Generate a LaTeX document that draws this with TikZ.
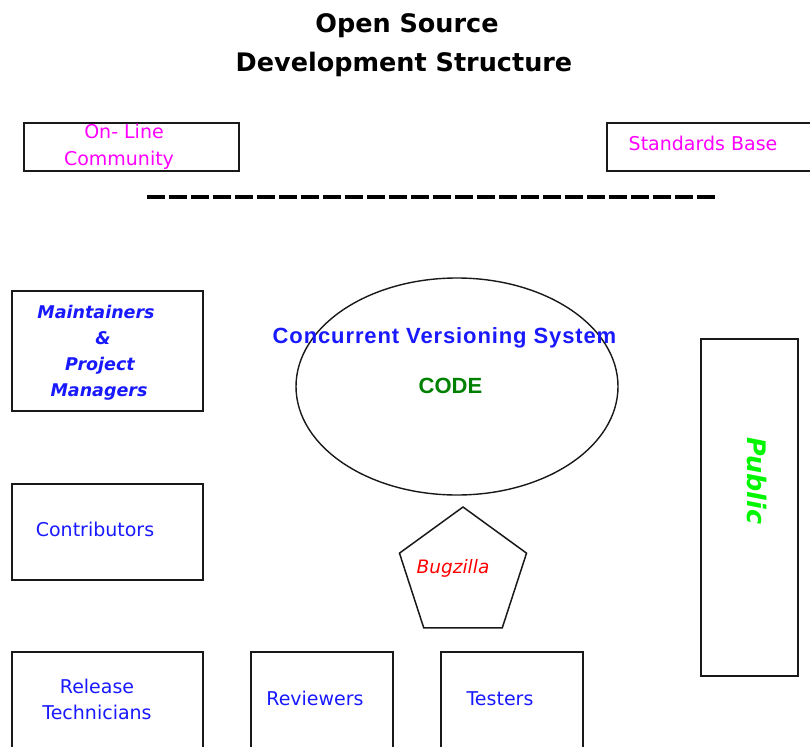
\documentclass[tikz,border=0pt]{standalone}
\usepackage{fontspec}
\setmainfont{DejaVu Sans}
\newfontfamily\cvsf[LetterSpace=4]{Liberation Sans}
\newfontfamily\codef{Liberation Sans}
\usetikzlibrary{shapes.geometric}
\definecolor{lblue}{RGB}{25,25,255}
\definecolor{lmag}{RGB}{255,0,255}
\definecolor{lgreen}{RGB}{0,128,0}
\definecolor{pgreen}{RGB}{0,245,0}
\definecolor{lred}{RGB}{255,0,0}
\tikzset{
  box/.style={draw=black!90, line width=2pt, inner sep=0pt, anchor=north west},
  lab/.style={anchor=base, inner sep=0pt, font=\fontsize{19}{21}\selectfont},
  maglab/.style={lab, text=lmag},
  bluelab/.style={lab, text=lblue},
  mgrlab/.style={lab, text=lblue, font=\fontsize{17.5}{20}\selectfont\bfseries\itshape},
  titlab/.style={anchor=base, inner sep=0pt, font=\fontsize{25.5}{28}\selectfont\bfseries}
}
\begin{document}
\begin{tikzpicture}[x=1pt,y=-1pt]
\useasboundingbox (0,0) rectangle (810,746);
\clip (0,0) rectangle (810,746);
% title
\node[titlab] (t1) at (407,33) {Open Source};
\node[titlab] (t2) at (404,72) {Development Structure};
% top boxes
\node[box, minimum width=215pt, minimum height=48pt] (olc) at (23,122) {};
\node[maglab] (olc1) at (124,139) {On- Line};
\node[maglab] (olc2) at (119,165) {Community};
\node[box, minimum width=215pt, minimum height=48pt] (sb) at (606,122) {};
\node[maglab] (sbt) at (703,151) {Standards Base};
% dashed line
\coordinate (dl) at (147,197);
\coordinate (dr) at (718,197);
\draw[line width=4pt, dash pattern=on 17.5pt off 4.5pt] (dl) -- (dr);
% left boxes
\node[box, minimum width=191pt, minimum height=120pt] (mpm) at (11,290) {};
\node[mgrlab] (m1) at (96,318) {Maintainers};
\node[mgrlab] (m2) at (103,344) {\&};
\node[mgrlab] (m3) at (100,370) {Project};
\node[mgrlab] (m4) at (99,396) {Managers};
\node[box, minimum width=191pt, minimum height=96pt] (con) at (11,483) {};
\node[bluelab] (cont) at (95,536) {Contributors};
% ellipse
\node[ellipse, draw=black!90, line width=1.4pt, minimum width=322pt, minimum height=217pt, inner sep=0pt] (cvs) at (457,386.5) {};
\node[anchor=base, inner sep=0pt, text=lblue, font=\cvsf\fontsize{22}{24}\selectfont\bfseries] (cvst) at (444.5,343) {Concurrent Versioning System};
\node[anchor=base, inner sep=0pt, text=lgreen, font=\codef\fontsize{22}{24}\selectfont\bfseries] (code) at (450.5,393) {CODE};
% pentagon
\node[regular polygon, regular polygon sides=5, draw=black!90, line width=1.5pt, minimum size=133.6pt, inner sep=0pt] (bug) at (463,573.8) {};
\node[lab, text=lred, font=\fontsize{18.5}{20}\selectfont\itshape] (bugt) at (453,573) {Bugzilla};
% public
\node[box, minimum width=97pt, minimum height=337pt] (pub) at (700,338) {};
\node[rotate=-90, inner sep=0pt, text=pgreen, font=\fontsize{25.5}{28}\selectfont\bfseries\itshape] (pubt) at (757,481) {Public};
% bottom boxes
\node[box, minimum width=191pt, minimum height=110pt] (rel) at (11,651) {};
\node[bluelab] (r1) at (97,693) {Release};
\node[bluelab] (r2) at (97,719) {Technicians};
\node[box, minimum width=142pt, minimum height=110pt] (rev) at (250,651) {};
\node[bluelab] (revt) at (315,705) {Reviewers};
\node[box, minimum width=142pt, minimum height=110pt] (tes) at (440,651) {};
\node[bluelab] (test) at (500,705) {Testers};
\end{tikzpicture}
\end{document}
